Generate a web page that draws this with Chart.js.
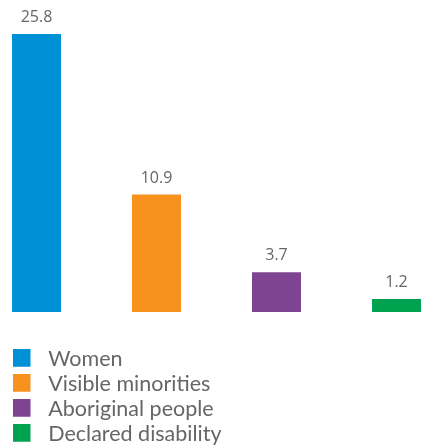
<!DOCTYPE html>
<html>
<head>
<meta charset="utf-8">
<script src="https://cdn.jsdelivr.net/npm/chart.js@4/dist/chart.umd.min.js"></script>
<style>
  html, body { margin: 0; padding: 0; background: #fff; }
  #wrap { width: 421px; height: 448px; position: relative; }
</style>
</head>
<body>
<div id="wrap"><canvas id="c"></canvas></div>
<script>
/* ── données ── */
const groups = ['Women', 'Visible minorities', 'Aboriginal people', 'Declared disability'];
const values = [25.8, 10.9, 3.7, 1.2];
const colors = ['#0090d6', '#f7921e', '#7e4391', '#00a24f'];

const FONT = 'Lato, sans-serif';
const GREY = '#666666';

/* petites vignettes carrées pour la légende (carré collé à gauche) */
function swatch(color) {
  const cv = document.createElement('canvas');
  cv.width = 28; cv.height = 20;
  const g = cv.getContext('2d');
  g.fillStyle = color;
  g.fillRect(0, 0, 18, 18);
  return cv;
}
const swatches = colors.map(swatch);

/* étiquettes de valeur au-dessus des barres */
const valueLabels = {
  id: 'valueLabels',
  afterDatasetsDraw(chart) {
    const ctx = chart.ctx;
    ctx.save();
    ctx.font = '16px "Open Sans", sans-serif';
    ctx.fillStyle = GREY;
    ctx.textAlign = 'center';
    ctx.textBaseline = 'alphabetic';
    chart.data.datasets.forEach((ds, i) => {
      const el = chart.getDatasetMeta(i).data[0];
      if (el) ctx.fillText(values[i].toFixed(1), el.x, el.y - 12);
    });
    ctx.restore();
  }
};

new Chart(document.getElementById('c'), {
  type: 'bar',
  data: {
    labels: [''],
    datasets: groups.map((g, i) => ({
      label: g,
      data: [values[i]],
      backgroundColor: colors[i],
      categoryPercentage: 480 / 409,
      barPercentage: 49 / 120
    }))
  },
  options: {
    responsive: true, maintainAspectRatio: false, animation: false,
    layout: { padding: { left: 12, right: 0, top: 0, bottom: 0 } },
    plugins: {
      legend: {
        position: 'chartArea', align: 'end',
        labels: {
          usePointStyle: true, pointStyleWidth: 22,
          padding: 3.5, color: GREY,
          font: { family: FONT, size: 21.5 },
          generateLabels: chart =>
            Chart.defaults.plugins.legend.labels.generateLabels(chart)
              .map((it, i) => ({ ...it, pointStyle: swatches[i] }))
        }
      },
      tooltip: { enabled: false }
    },
    scales: {
      x: { display: false },
      y: { display: false, min: -12.62, max: 28.96 }
    }
  },
  plugins: [valueLabels]
});
</script>
</body>
</html>
